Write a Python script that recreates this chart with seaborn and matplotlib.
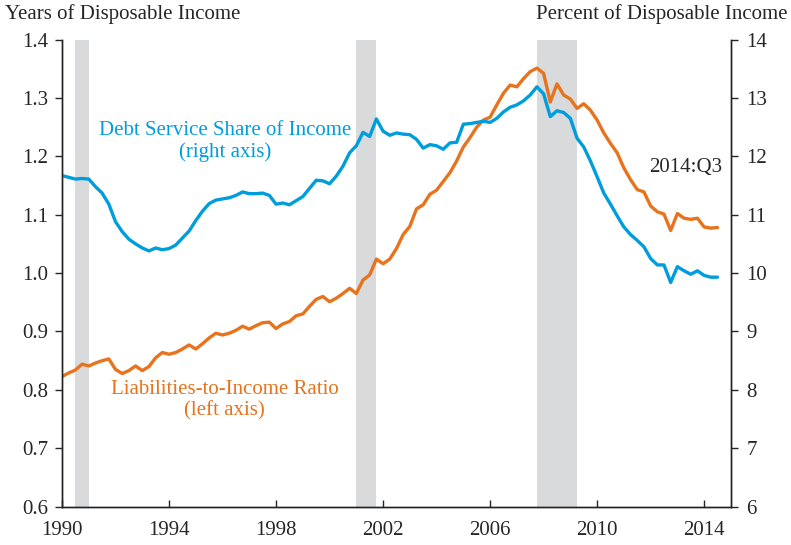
import pandas as pd
import matplotlib
matplotlib.use("Agg")
import matplotlib.pyplot as plt
import seaborn as sns

# Quarterly dates (decimal years)
dates = [1990 + 0.25 * i for i in range(99)]

# Liabilities-to-income ratio (left axis, years of disposable income)
liabilities = [
    0.823, 0.829, 0.834, 0.844, 0.841, 0.846, 0.850, 0.853,
    0.835, 0.828, 0.833, 0.841, 0.833, 0.840, 0.855, 0.864,
    0.861, 0.864, 0.870, 0.877, 0.870, 0.879, 0.889, 0.897,
    0.894, 0.897, 0.902, 0.909, 0.904, 0.910, 0.915, 0.916,
    0.905, 0.913, 0.917, 0.927, 0.930, 0.943, 0.955, 0.960,
    0.951, 0.957, 0.965, 0.974, 0.965, 0.988, 0.997, 1.024,
    1.016, 1.024, 1.042, 1.066, 1.080, 1.110, 1.117, 1.135,
    1.142, 1.157, 1.172, 1.192, 1.216, 1.232, 1.250, 1.262,
    1.267, 1.288, 1.308, 1.322, 1.319, 1.333, 1.345, 1.351,
    1.342, 1.293, 1.324, 1.305, 1.298, 1.282, 1.290, 1.279,
    1.262, 1.240, 1.222, 1.206, 1.180, 1.160, 1.143, 1.139,
    1.115, 1.105, 1.101, 1.073, 1.102, 1.094, 1.092, 1.094,
    1.079, 1.077, 1.078,
]

# Debt service share of income (right axis, percent)
debt_service = [
    11.67, 11.64, 11.61, 11.62, 11.61, 11.48, 11.37, 11.18,
    10.88, 10.71, 10.58, 10.50, 10.43, 10.38, 10.43, 10.40,
    10.42, 10.48, 10.60, 10.72, 10.90, 11.06, 11.19, 11.25,
    11.27, 11.29, 11.33, 11.39, 11.36, 11.36, 11.37, 11.33,
    11.18, 11.20, 11.17, 11.24, 11.31, 11.45, 11.59, 11.58,
    11.53, 11.66, 11.83, 12.06, 12.18, 12.41, 12.34, 12.64,
    12.43, 12.36, 12.40, 12.38, 12.37, 12.29, 12.14, 12.20,
    12.18, 12.12, 12.23, 12.24, 12.55, 12.56, 12.58, 12.60,
    12.58, 12.65, 12.76, 12.84, 12.88, 12.95, 13.05, 13.19,
    13.07, 12.68, 12.78, 12.75, 12.65, 12.31, 12.16, 11.92,
    11.65, 11.37, 11.18, 10.98, 10.79, 10.66, 10.56, 10.45,
    10.25, 10.14, 10.14, 9.84, 10.11, 10.04, 9.98, 10.04,
    9.96, 9.93, 9.93,
]

# Recession periods
recessions = [(1990.5, 1991.0), (2001.0, 2001.75), (2007.75, 2009.25)]

x_ticks = [1990, 1994, 1998, 2002, 2006, 2010, 2014]
left_ticks = [0.6, 0.7, 0.8, 0.9, 1.0, 1.1, 1.2, 1.3, 1.4]
right_ticks = [6, 7, 8, 9, 10, 11, 12, 13, 14]

df = pd.DataFrame({"date": dates, "liabilities": liabilities, "debt_service": debt_service})

sns.set_style("ticks")
plt.rcParams['font.family'] = ['Liberation Serif', 'DejaVu Serif']
plt.rcParams['font.size'] = 15

blue = "#009ddc"
orange = "#e8731c"

fig, ax = plt.subplots(figsize=(7.91, 5.45), dpi=100)
fig.subplots_adjust(left=0.0784, right=0.924, bottom=0.0703, top=0.9275)
ax2 = ax.twinx()

for start, end in recessions:
    ax.axvspan(start, end, color="#d9dadc", lw=0, zorder=0)

sns.lineplot(data=df, x="date", y="debt_service", ax=ax2, color=blue, lw=2.4)
sns.lineplot(data=df, x="date", y="liabilities", ax=ax, color=orange, lw=2.4)

ax.set_xlim(1990, 2015)
ax.set_ylim(0.6, 1.4)
ax2.set_ylim(6, 14)
ax.set_xticks(x_ticks)
ax.set_yticks(left_ticks)
ax.set_yticklabels([f"{v:.1f}" for v in left_ticks])
ax2.set_yticks(right_ticks)
ax.set_xlabel("")
ax.set_ylabel("")
ax2.set_ylabel("")

for a in (ax, ax2):
    a.spines["top"].set_visible(False)
    for s in a.spines.values():
        s.set_linewidth(1.0)
        s.set_color("#222222")
ax.tick_params(axis="x", direction="in", length=5, width=1, labelsize=15, pad=10)
ax.tick_params(axis="y", direction="out", length=5, width=1, labelsize=15, pad=5)
ax2.tick_params(axis="y", direction="out", length=5, width=1, labelsize=15, pad=6)

fig.text(0.006, 0.975, "Years of Disposable Income", fontsize=15, ha="left", va="center")
fig.text(0.995, 0.975, "Percent of Disposable Income", fontsize=15, ha="right", va="center")

ax.text(0.244, 0.781, "Debt Service Share of Income\n(right axis)", transform=ax.transAxes,
        color=blue, fontsize=15, ha="center", va="center", linespacing=1.15)
ax.text(0.243, 0.228, "Liabilities-to-Income Ratio\n(left axis)", transform=ax.transAxes,
        color=orange, fontsize=15, ha="center", va="center", linespacing=1.15)
ax.text(0.933, 0.725, "2014:Q3", transform=ax.transAxes, fontsize=15, ha="center", va="center")

plt.savefig("out.png", dpi=100)
